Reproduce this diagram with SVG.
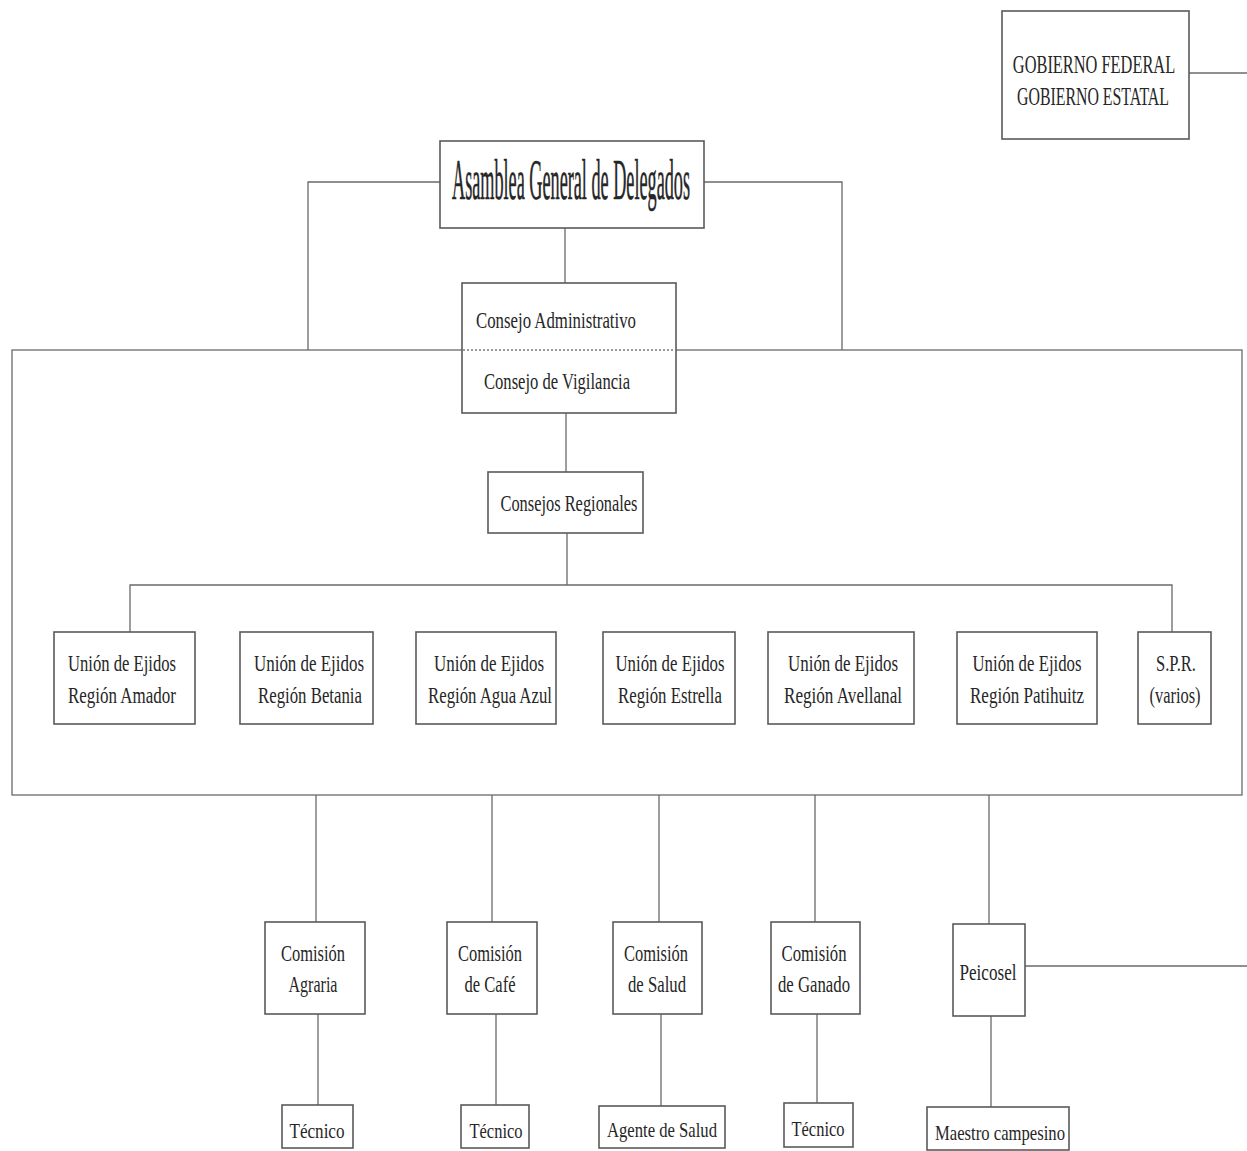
<svg xmlns="http://www.w3.org/2000/svg" width="1247" height="1151" viewBox="0 0 1247 1151">
  <style>
    .box { fill: #ffffff; stroke: #5a5a5a; stroke-width: 1.6; }
    .ln { fill: none; stroke: #6a6a6a; stroke-width: 1.3; }
    .dot { fill: none; stroke: #7a7a7a; stroke-width: 1.3; stroke-dasharray: 2 2; }
    .t { font-family: "Liberation Serif", "Times New Roman", serif; fill: #262626; text-anchor: middle; }
    .s22 { font-size: 22px; }
    .s23 { font-size: 23px; }
    .s24 { font-size: 24px; }
    .s26 { font-size: 26px; }
    .s56 { font-size: 56px; stroke: #262626; stroke-width: 0.6; }
  </style>
  <rect width="1247" height="1151" fill="#ffffff"/>

  <!-- outer frame grouping the councils and unions -->
  <rect id="frame" x="12" y="350" width="1230" height="445" class="ln"/>

  <g id="connectors">
    <!-- government link -->
    <line x1="1189" y1="73" x2="1247" y2="73" class="ln"/>
    <!-- assembly side links down to the frame -->
    <polyline points="440,182 308,182 308,350" class="ln"/>
    <polyline points="704,182 842,182 842,350" class="ln"/>
    <!-- assembly to council -->
    <line x1="565" y1="228" x2="565" y2="283" class="ln"/>
    <!-- council to regional councils -->
    <line x1="566" y1="413" x2="566" y2="472" class="ln"/>
    <!-- regional councils to the union bus -->
    <line x1="567" y1="533" x2="567" y2="585" class="ln"/>
    <polyline points="130,632 130,585 1172,585 1172,632" class="ln"/>
    <!-- frame down to the commissions -->
    <line x1="316" y1="795" x2="316" y2="922" class="ln"/>
    <line x1="492" y1="795" x2="492" y2="922" class="ln"/>
    <line x1="659" y1="795" x2="659" y2="922" class="ln"/>
    <line x1="815" y1="795" x2="815" y2="922" class="ln"/>
    <line x1="989" y1="795" x2="989" y2="924" class="ln"/>
    <!-- Peicosel link to the right -->
    <line x1="1025" y1="966" x2="1247" y2="966" class="ln"/>
    <!-- commissions down to field staff -->
    <line x1="318" y1="1014" x2="318" y2="1105" class="ln"/>
    <line x1="496" y1="1014" x2="496" y2="1105" class="ln"/>
    <line x1="661" y1="1014" x2="661" y2="1106" class="ln"/>
    <line x1="817" y1="1014" x2="817" y2="1103" class="ln"/>
    <line x1="991" y1="1016" x2="991" y2="1107" class="ln"/>
  </g>

  <g id="gobierno">
    <rect x="1002" y="11" width="187" height="128" class="box"/>
    <!-- condensed caps: scaled horizontally about the box centre -->
    <g transform="translate(1094,0) scale(0.63,1)">
      <text x="0" y="73" class="t s26">GOBIERNO FEDERAL</text>
    </g>
    <g transform="translate(1093,0) scale(0.61,1)">
      <text x="0" y="105" class="t s26">GOBIERNO ESTATAL</text>
    </g>
  </g>

  <g id="asamblea">
    <rect x="440" y="141" width="264" height="87" class="box"/>
    <text x="571" y="199" class="t s56" textLength="238" lengthAdjust="spacingAndGlyphs">Asamblea General de Delegados</text>
  </g>

  <g id="consejo">
    <rect x="462" y="283" width="214" height="130" class="box"/>
    <line x1="463" y1="350" x2="675" y2="350" class="dot"/>
    <text x="556" y="328" class="t s24" textLength="160" lengthAdjust="spacingAndGlyphs">Consejo Administrativo</text>
    <text x="557" y="389" class="t s24" textLength="146" lengthAdjust="spacingAndGlyphs">Consejo de Vigilancia</text>
  </g>

  <g id="consejos-regionales">
    <rect x="488" y="472" width="155" height="61" class="box"/>
    <text x="569" y="511" class="t s24" textLength="137" lengthAdjust="spacingAndGlyphs">Consejos Regionales</text>
  </g>

  <g id="union-amador">
    <rect x="54" y="632" width="141" height="92" class="box"/>
    <text x="122" y="671" class="t s24" textLength="108" lengthAdjust="spacingAndGlyphs">Unión de Ejidos</text>
    <text x="122" y="703" class="t s24" textLength="108" lengthAdjust="spacingAndGlyphs">Región Amador</text>
  </g>
  <g id="union-betania">
    <rect x="240" y="632" width="133" height="92" class="box"/>
    <text x="309" y="671" class="t s24" textLength="110" lengthAdjust="spacingAndGlyphs">Unión de Ejidos</text>
    <text x="310" y="703" class="t s24" textLength="104" lengthAdjust="spacingAndGlyphs">Región Betania</text>
  </g>
  <g id="union-agua-azul">
    <rect x="416" y="632" width="140" height="92" class="box"/>
    <text x="489" y="671" class="t s24" textLength="110" lengthAdjust="spacingAndGlyphs">Unión de Ejidos</text>
    <text x="490" y="703" class="t s24" textLength="124" lengthAdjust="spacingAndGlyphs">Región Agua Azul</text>
  </g>
  <g id="union-estrella">
    <rect x="603" y="632" width="132" height="92" class="box"/>
    <text x="670" y="671" class="t s24" textLength="109" lengthAdjust="spacingAndGlyphs">Unión de Ejidos</text>
    <text x="670" y="703" class="t s24" textLength="104" lengthAdjust="spacingAndGlyphs">Región Estrella</text>
  </g>
  <g id="union-avellanal">
    <rect x="768" y="632" width="146" height="92" class="box"/>
    <text x="843" y="671" class="t s24" textLength="110" lengthAdjust="spacingAndGlyphs">Unión de Ejidos</text>
    <text x="843" y="703" class="t s24" textLength="118" lengthAdjust="spacingAndGlyphs">Región Avellanal</text>
  </g>
  <g id="union-patihuitz">
    <rect x="957" y="632" width="140" height="92" class="box"/>
    <text x="1027" y="671" class="t s24" textLength="109" lengthAdjust="spacingAndGlyphs">Unión de Ejidos</text>
    <text x="1027" y="703" class="t s24" textLength="114" lengthAdjust="spacingAndGlyphs">Región Patihuitz</text>
  </g>
  <g id="spr">
    <rect x="1138" y="632" width="73" height="92" class="box"/>
    <text x="1176" y="671" class="t s24" textLength="40" lengthAdjust="spacingAndGlyphs">S.P.R.</text>
    <text x="1175" y="703" class="t s24" textLength="51" lengthAdjust="spacingAndGlyphs">(varios)</text>
  </g>

  <g id="comision-agraria">
    <rect x="265" y="922" width="100" height="92" class="box"/>
    <text x="313" y="961" class="t s23" textLength="64" lengthAdjust="spacingAndGlyphs">Comisión</text>
    <text x="313" y="992" class="t s23" textLength="49" lengthAdjust="spacingAndGlyphs">Agraria</text>
  </g>
  <g id="comision-cafe">
    <rect x="447" y="922" width="90" height="92" class="box"/>
    <text x="490" y="961" class="t s23" textLength="64" lengthAdjust="spacingAndGlyphs">Comisión</text>
    <text x="490" y="992" class="t s23" textLength="51" lengthAdjust="spacingAndGlyphs">de Café</text>
  </g>
  <g id="comision-salud">
    <rect x="613" y="922" width="89" height="92" class="box"/>
    <text x="656" y="961" class="t s23" textLength="64" lengthAdjust="spacingAndGlyphs">Comisión</text>
    <text x="657" y="992" class="t s23" textLength="58" lengthAdjust="spacingAndGlyphs">de Salud</text>
  </g>
  <g id="comision-ganado">
    <rect x="771" y="922" width="89" height="92" class="box"/>
    <text x="814" y="961" class="t s23" textLength="65" lengthAdjust="spacingAndGlyphs">Comisión</text>
    <text x="814" y="992" class="t s23" textLength="72" lengthAdjust="spacingAndGlyphs">de Ganado</text>
  </g>
  <g id="peicosel">
    <rect x="953" y="924" width="72" height="92" class="box"/>
    <text x="988" y="980" class="t s23" textLength="57" lengthAdjust="spacingAndGlyphs">Peicosel</text>
  </g>

  <g id="tecnico-agraria">
    <rect x="282" y="1105" width="71" height="43" class="box"/>
    <text x="317" y="1138" class="t s22" textLength="55" lengthAdjust="spacingAndGlyphs">Técnico</text>
  </g>
  <g id="tecnico-cafe">
    <rect x="461" y="1105" width="68" height="43" class="box"/>
    <text x="496" y="1138" class="t s22" textLength="53" lengthAdjust="spacingAndGlyphs">Técnico</text>
  </g>
  <g id="agente-salud">
    <rect x="599" y="1106" width="126" height="42" class="box"/>
    <text x="662" y="1137" class="t s22" textLength="110" lengthAdjust="spacingAndGlyphs">Agente de Salud</text>
  </g>
  <g id="tecnico-ganado">
    <rect x="784" y="1103" width="69" height="44" class="box"/>
    <text x="818" y="1136" class="t s22" textLength="53" lengthAdjust="spacingAndGlyphs">Técnico</text>
  </g>
  <g id="maestro-campesino">
    <rect x="927" y="1107" width="142" height="43" class="box"/>
    <text x="1000" y="1140" class="t s22" textLength="130" lengthAdjust="spacingAndGlyphs">Maestro campesino</text>
  </g>
</svg>
